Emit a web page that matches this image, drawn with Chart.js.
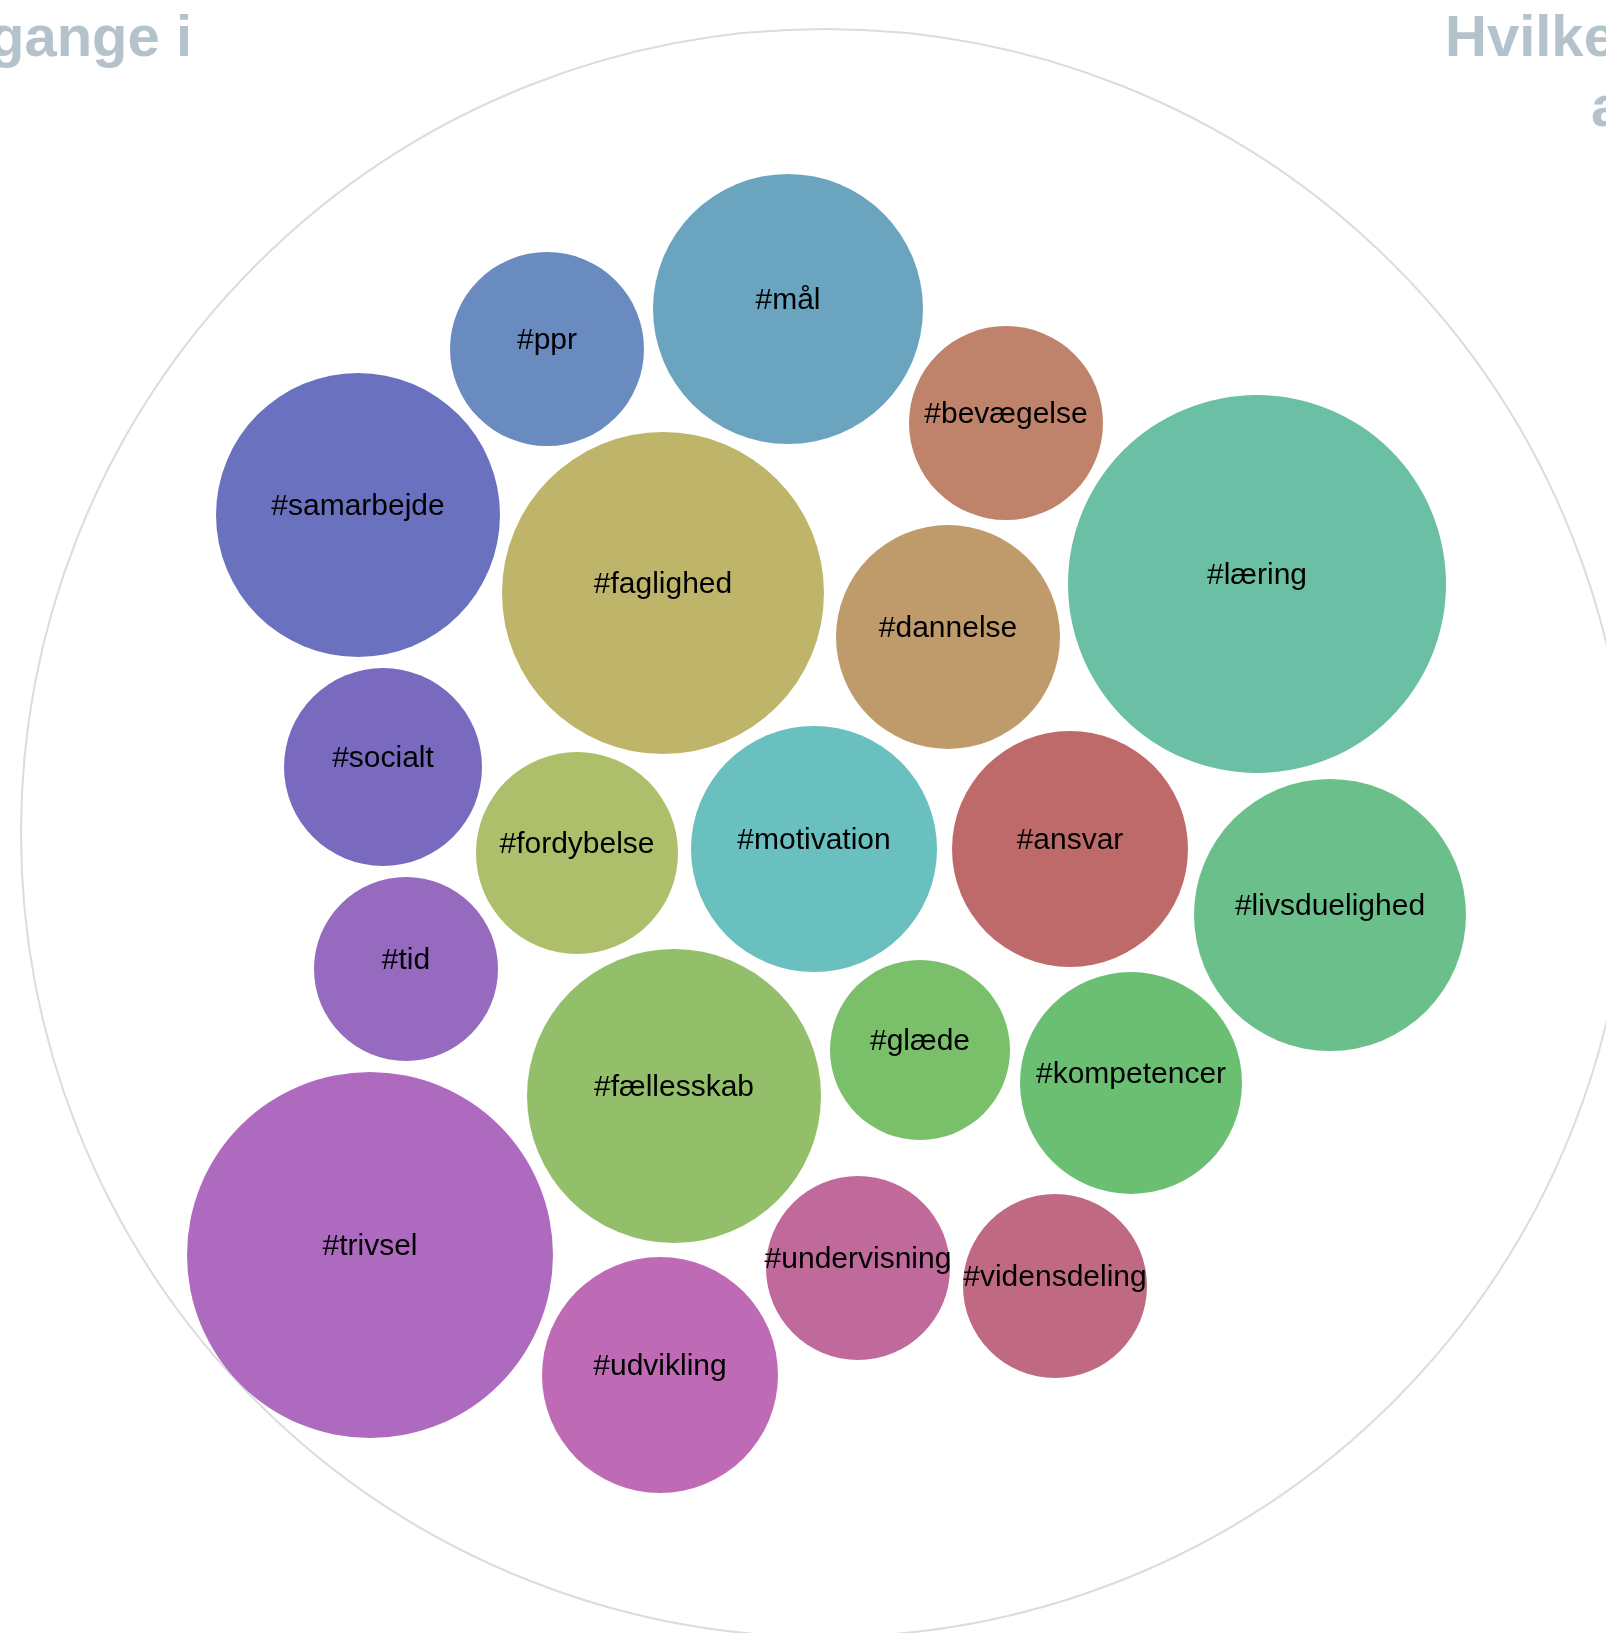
<!DOCTYPE html>
<html>
<head>
<meta charset="utf-8">
<script src="https://cdn.jsdelivr.net/npm/chart.js@4.4.0/dist/chart.umd.min.js"></script>
<style>
  html, body { margin: 0; padding: 0; background: #fff; overflow: hidden; }
  #wrap { position: relative; width: 1606px; height: 1633px; overflow: hidden; }
  canvas { position: absolute; left: 0; top: 0; }
  .titel { position: absolute; font-family: "Liberation Sans", Arial, sans-serif; font-weight: bold;
           font-size: 58px; color: #b4c2cc; white-space: nowrap; line-height: 70px; }
</style>
</head>
<body>
<div id="wrap">
  <canvas id="boble" width="1606" height="1633"></canvas>
  <div class="titel" style="left:-11px; top:1px;">gange i</div>
  <div class="titel" style="left:1445px; top:1px;">Hvilke<br><span style="padding-left:146px">a</span></div>
</div>
<script>
// hashtags og bobler (x, y, radius)
const tags = ["#mål", "#ppr", "#bevægelse", "#samarbejde", "#faglighed", "#dannelse", "#læring",
  "#socialt", "#fordybelse", "#motivation", "#ansvar", "#livsduelighed", "#tid", "#fællesskab",
  "#glæde", "#kompetencer", "#trivsel", "#undervisning", "#vidensdeling", "#udvikling"];
const xs = [788, 547, 1006, 358, 663, 948, 1257, 383, 577, 814, 1070, 1330, 406, 674, 920, 1131, 370, 858, 1055, 660];
const ys = [309, 349, 423, 515, 593, 637, 584, 767, 853, 849, 849, 915, 969, 1096, 1050, 1083, 1255, 1268, 1286, 1375];
const radier = [135, 97, 97, 142, 161, 112, 189, 99, 101, 123, 118, 136, 92, 147, 90, 111, 183, 92, 92, 118];
const farver = ["#6aa4bf", "#6a8bbf", "#bf826a", "#6a72bf", "#bfb56a", "#bf9a6a", "#6abfa4", "#7a6abf",
  "#adbf6a", "#6abfbf", "#bf6a6a", "#6abf8b", "#956abf", "#93bf6a", "#7abf6a", "#6abf72", "#ae6abf",
  "#bf6a9a", "#bf6a82", "#bf6ab5"];
// ydre ring
const ring = { x: 825, y: 833, r: 804 };

const bobler = tags.map((t, i) => ({ x: xs[i], y: ys[i], r: radier[i] }));

const labelPlugin = {
  id: "labels",
  afterDatasetsDraw(chart) {
    const ctx = chart.ctx;
    const meta = chart.getDatasetMeta(0);
    ctx.save();
    ctx.font = "30px 'Liberation Sans', Arial, sans-serif";
    ctx.fillStyle = "#000";
    ctx.textAlign = "center";
    ctx.textBaseline = "alphabetic";
    meta.data.forEach((pt, i) => {
      ctx.fillText(tags[i], pt.x, pt.y);
    });
    ctx.restore();
  }
};

new Chart(document.getElementById("boble"), {
  type: "bubble",
  data: {
    datasets: [
      { data: bobler, backgroundColor: farver, borderWidth: 0, hoverBorderWidth: 0, clip: false },
      { data: [ring], backgroundColor: "rgba(0,0,0,0)", borderColor: "#dcdcdc", borderWidth: 2, clip: false }
    ]
  },
  options: {
    responsive: false,
    animation: false,
    layout: { padding: 0, autoPadding: false },
    events: [],
    scales: {
      x: { display: false, min: 0, max: 1606 },
      y: { display: false, min: 0, max: 1633, reverse: true }
    },
    plugins: { legend: { display: false }, tooltip: { enabled: false } }
  },
  plugins: [labelPlugin]
});
</script>
</body>
</html>
